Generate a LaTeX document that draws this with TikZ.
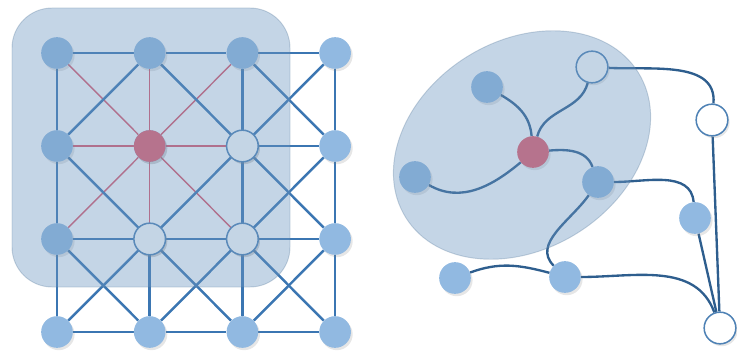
\documentclass[tikz,border=0pt]{standalone}
\usetikzlibrary{positioning,shadows,calc}
\pgfdeclarelayer{background}
\pgfsetlayers{background,main}

\definecolor{nodeblue}{RGB}{145,185,225}
\definecolor{lineblue}{RGB}{59,118,178}
\definecolor{curveblue}{RGB}{46,94,142}
\definecolor{rimblue}{RGB}{79,130,181}
\definecolor{veilblue}{RGB}{108,150,192}
\definecolor{nodered}{RGB}{232,92,108}
\definecolor{linered}{RGB}{222,88,108}

% blue grid edge, left out when it touches the centre vertex g11
\newcommand\gridedge[4]{%
  \pgfmathtruncatemacro\hit{(#1==1&&#2==1)||(#3==1&&#4==1)}%
  \ifnum\hit=0 \draw[bedge] (g#1#2) -- (g#3#4);\fi}

\begin{document}
\begin{tikzpicture}[x=0.03cm,y=0.03cm]
  \tikzset{
    vtx/.style={circle, inner sep=0pt, minimum size=0.95cm, fill=nodeblue,
      drop shadow={shadow xshift=1.5pt, shadow yshift=-2pt, opacity=0.2}},
    redvtx/.style={vtx, fill=nodered},
    openvtx/.style={vtx, fill=white, draw=rimblue, line width=1.3pt},
    bedge/.style={lineblue, line width=2.1pt},
    redge/.style={linered, line width=1.2pt},
    cedge/.style={curveblue, line width=2pt},
    veil/.style={fill=veilblue, fill opacity=0.4, draw=veilblue!80!black, draw opacity=0.3, line width=0.8pt},
  }
  \useasboundingbox (0,0) rectangle (737,360);

  % left: the grid
  \foreach \i in {0,...,3}
    \foreach \j in {0,...,3}
      \node[vtx] (g\i\j) at ({57+92.7*\i},{307-93*\j}) {};
  \node[redvtx] at (g11) {};
  \node[openvtx] at (g21) {};
  \node[openvtx] at (g12) {};
  \node[openvtx] at (g22) {};

  \begin{pgfonlayer}{background}
    \foreach \n in {00,10,20,01,21,02,12,22}
      \draw[redge] (g11) -- (g\n);
    \foreach \i in {0,...,3}
      \foreach \j in {0,1,2} {
        \pgfmathtruncatemacro\n{\j+1}
        \gridedge{\i}{\j}{\i}{\n}
        \gridedge{\j}{\i}{\n}{\i}
      }
    \foreach \i in {0,1,2}
      \foreach \j in {0,1,2} {
        \pgfmathtruncatemacro\m{\i+1}
        \pgfmathtruncatemacro\n{\j+1}
        \gridedge{\i}{\j}{\m}{\n}
        \gridedge{\m}{\j}{\i}{\n}
      }
  \end{pgfonlayer}

  \draw[veil, rounded corners=1.2cm] (12,73) rectangle (290,352);

  % right: the free graph
  \node[vtx] (a1) at (487,273) {};
  \node[openvtx] (h1) at (592,293) {};
  \node[openvtx] (h2) at (712,240) {};
  \node[redvtx] (r) at (533,208) {};
  \node[vtx] (a2) at (415,183) {};
  \node[vtx] (a3) at (598,178) {};
  \node[vtx] (a4) at (695,142) {};
  \node[vtx] (a5) at (455,82) {};
  \node[vtx] (a6) at (565,83) {};
  \node[openvtx] (h3) at (720,32) {};

  \begin{pgfonlayer}{background}
    \draw[cedge] (a1) to[out=-30,in=95] (r);
    \draw[cedge] (r) to[out=75,in=-105] (h1);
    \draw[cedge] (r) to[out=-140,in=-30] (a2);
    \draw[cedge] (r) to[out=5,in=110] (a3);
    \draw[cedge] (h1) to[out=-3,in=85] (h2);
    \draw[cedge] (h2) -- (h3);
    \draw[cedge] (a3) to[out=0,in=95] (a4);
    \draw[cedge] (a4) -- (h3);
    \draw[cedge] (a3) to[out=-125,in=135] (a6);
    \draw[cedge] (a5) to[out=20,in=165] (a6);
    \draw[cedge] (a6) to[out=0,in=110] (h3);
  \end{pgfonlayer}

  \draw[veil, rotate around={32:(522,215)}] (522,215) ellipse [x radius=137, y radius=104];
\end{tikzpicture}
\end{document}
